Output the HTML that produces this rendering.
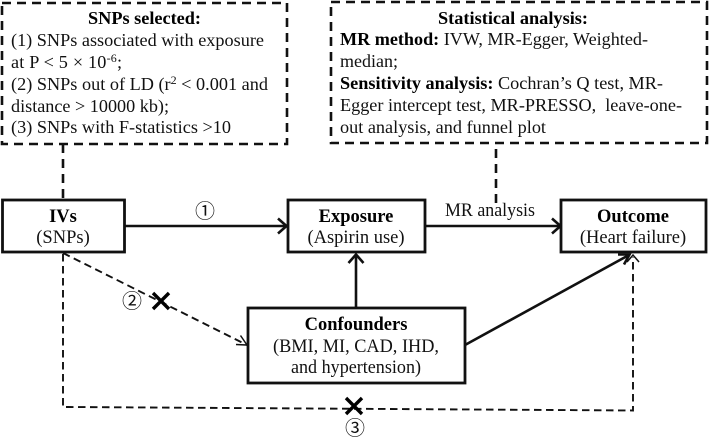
<!DOCTYPE html>
<html><head><meta charset="utf-8">
<style>
html,body{margin:0;padding:0;background:#fff;width:709px;height:440px;overflow:hidden}
svg{display:block;filter:blur(0.35px)}
text{font-family:"Liberation Serif","Noto Serif CJK SC",serif;font-size:18.5px;fill:#111}
.t{font-size:18.2px}
.b{font-weight:bold;fill:#000}
.c{font-family:"Noto Sans CJK JP","Liberation Sans",sans-serif;font-size:20px;fill:#111;text-anchor:middle}
.box{fill:#fff;stroke:#111;stroke-width:2.8}
.dbox{fill:none;stroke:#111;stroke-width:2.6;stroke-dasharray:9 6}
.l{fill:none;stroke:#111;stroke-width:2.6}
.d{fill:none;stroke:#111;stroke-width:1.9;stroke-dasharray:7.5 4.5}
.a{fill:none;stroke:#111;stroke-width:2.6}
.a2{fill:none;stroke:#111;stroke-width:1.5}
.x{fill:none;stroke:#000;stroke-width:3.4}
</style></head>
<body>
<svg width="709" height="440" viewBox="0 0 709 440" xmlns="http://www.w3.org/2000/svg">
<rect class="dbox" x="2" y="3" width="285" height="141"/>
<rect class="dbox" x="331" y="2" width="376" height="141"/>
<path class="dbox" d="M63 144V200"/>
<path class="dbox" d="M496 149V206"/>

<text class="b t" x="88" y="24" textLength="113" lengthAdjust="spacingAndGlyphs">SNPs selected:</text>
<text class="t" x="11" y="46" textLength="253" lengthAdjust="spacingAndGlyphs">(1) SNPs associated with exposure</text>
<text class="t" x="11" y="68" textLength="111" lengthAdjust="spacing" xml:space="preserve">at P &lt; 5 × 10<tspan font-size="12" dy="-6">-6</tspan><tspan dy="6">;</tspan></text>
<text class="t" x="11" y="90" textLength="257" lengthAdjust="spacingAndGlyphs">(2) SNPs out of LD (r<tspan font-size="12" dy="-6">2</tspan><tspan dy="6"> &lt; 0.001 and</tspan></text>
<text class="t" x="11" y="112" textLength="158" lengthAdjust="spacingAndGlyphs">distance &gt; 10000 kb);</text>
<text class="t" x="11" y="133" textLength="220" lengthAdjust="spacingAndGlyphs">(3) SNPs with F-statistics &gt;10</text>

<text class="b t" x="438" y="24" textLength="150" lengthAdjust="spacingAndGlyphs">Statistical analysis:</text>
<text class="t" x="340" y="45" textLength="308" lengthAdjust="spacingAndGlyphs"><tspan class="b">MR method:</tspan> IVW, MR-Egger, Weighted-</text>
<text class="t" x="340" y="67" textLength="58" lengthAdjust="spacingAndGlyphs">median;</text>
<text class="t" x="340" y="89" textLength="323" lengthAdjust="spacingAndGlyphs"><tspan class="b">Sensitivity analysis:</tspan> Cochran’s Q test, MR-</text>
<text class="t" x="340" y="111" textLength="342" lengthAdjust="spacingAndGlyphs" xml:space="preserve">Egger intercept test, MR-PRESSO,  leave-one-</text>
<text class="t" x="340" y="133" textLength="206" lengthAdjust="spacingAndGlyphs">out analysis, and funnel plot</text>

<path class="l" d="M124 226H286"/>
<path class="a" d="M278 218.500L286.500 226L278 233.500"/>
<path class="l" d="M425 226H560"/>
<path class="a" d="M552 218.500L560.500 226L552 233.500"/>
<path class="l" d="M356 308V255"/>
<path class="a" d="M348.500 263L356 254.500L363.500 263"/>
<path class="l" d="M465 345L629 255"/>
<path class="a" d="M618 254.500L629.500 254.500L624 264.500"/>

<path class="d" d="M63 253L247 345"/>
<path class="a2" d="M236 344.500L247 345L240.500 335.500"/>
<path class="d" d="M63 254V407H68L633 410.500V257"/>
<path class="a2" d="M627 262L633 255L639 262"/>

<rect class="box" x="2.500" y="200" width="122" height="52"/>
<rect class="box" x="288" y="200" width="137" height="52"/>
<rect class="box" x="561" y="200" width="145" height="52"/>
<rect class="box" x="248" y="308" width="217" height="75"/>

<text class="b" x="63" y="222" text-anchor="middle">IVs</text>
<text x="63" y="243" text-anchor="middle">(SNPs)</text>
<text class="b" x="356" y="222" text-anchor="middle">Exposure</text>
<text x="356" y="243" text-anchor="middle">(Aspirin use)</text>
<text class="b" x="633" y="222" text-anchor="middle">Outcome</text>
<text x="633" y="243" text-anchor="middle">(Heart failure)</text>
<text class="b" x="356" y="330" text-anchor="middle">Confounders</text>
<text x="273" y="352" textLength="166" lengthAdjust="spacingAndGlyphs">(BMI, MI, CAD, IHD,</text>
<text x="291" y="373" textLength="130" lengthAdjust="spacingAndGlyphs">and hypertension)</text>
<text x="445" y="216" textLength="90" lengthAdjust="spacingAndGlyphs">MR analysis</text>

<text class="c" x="205" y="218">①</text>
<text class="c" x="132" y="308">②</text>
<text class="c" x="355" y="435">③</text>

<path class="x" d="M153 293L169 309M169 293L153 309"/>
<path class="x" d="M346 398L362 414M362 398L346 414"/>
</svg>
</body></html>
